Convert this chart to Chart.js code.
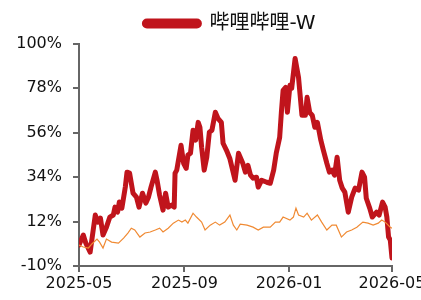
<!DOCTYPE html>
<html>
<head>
<meta charset="utf-8">
<script src="https://cdn.jsdelivr.net/npm/chart.js@4"></script>
<style>
  html, body { margin: 0; padding: 0; background: #fff; }
  #wrap { width: 421px; height: 300px; }
</style>
</head>
<body>
<div id="wrap"><canvas id="chart" width="421" height="300"></canvas></div>
<script>
// days counted from 2025-05-01
const xTickDays = [0, 123, 245, 365];
const xTickLabels = ['2025-05', '2025-09', '2026-01', '2026-05'];
const yTickValues = [-10, 12, 34, 56, 78, 100];

const biliName = '哔哩哔哩-W';
const biliDays = [0, 5, 8, 13, 19, 22, 25, 28, 32, 36, 40, 42, 45, 47, 50, 54, 56, 59, 63, 67,
  70, 74, 78, 81, 84, 89, 91, 94, 98, 101, 104, 108, 111, 112, 114, 119, 122, 125, 127, 130,
  133, 136, 139, 141, 143, 146, 149, 152, 155, 159, 162, 166, 168, 172, 176, 182, 186, 191, 194, 197,
  200, 203, 207, 209, 213, 219, 223, 227, 230, 234, 236, 238, 241, 243, 246, 248, 252, 256, 260, 264,
  266, 269, 272, 275, 278, 282, 285, 289, 292, 295, 298, 301, 304, 307, 310, 314, 318, 322, 326, 330,
  333, 335, 339, 342, 347, 350, 354, 357, 359, 361, 363, 365];
const biliValues = [0.4, 5.3, 1.3, -3.1, 15.2, 11.7, 13.7, 5.3, 9.2, 14.2, 15.2, 19.1, 16.6, 21.6, 18.6, 29.0, 36.4, 35.9, 26.0, 24.0,
  19.1, 26.0, 21.1, 24.0, 29.0, 36.4, 32.4, 25.0, 17.6, 26.0, 19.1, 20.1, 19.1, 35.9, 37.4, 49.7, 40.8, 38.3, 44.8, 45.7,
  57.1, 52.2, 61.0, 58.6, 48.7, 37.4, 43.8, 56.1, 57.1, 66.0, 63.0, 61.0, 50.7, 47.2, 43.0, 32.4, 45.7, 40.8, 36.4, 39.8,
  34.9, 33.4, 33.9, 29.0, 32.4, 31.4, 30.9, 37.4, 45.7, 53.6, 66.0, 76.8, 78.3, 66.0, 79.3, 77.8, 92.6, 83.2, 64.5, 64.5,
  73.4, 66.0, 64.5, 58.6, 61.0, 52.2, 47.2, 40.8, 36.4, 37.4, 34.9, 43.8, 32.4, 28.5, 26.5, 16.6, 24.0, 28.5, 27.5, 36.4,
  33.9, 23.5, 18.6, 14.2, 16.6, 15.2, 21.6, 19.1, 14.2, 4.3, 2.8, -6.1];

const benchDays = [0, 5, 11, 15, 21, 24, 28, 32, 38, 46, 52, 57, 61, 65, 71, 77, 83, 89, 94, 98,
  104, 110, 116, 120, 124, 127, 133, 137, 143, 147, 153, 159, 164, 170, 176, 180, 184, 188, 196, 203,
  209, 215, 223, 229, 234, 238, 246, 250, 253, 256, 262, 266, 271, 278, 283, 289, 295, 300, 306, 312,
  318, 324, 331, 337, 343, 349, 353, 357, 363, 365];
const benchValues = [0.4, -0.6, -1.1, 0.9, 3.3, 1.8, -1.1, 3.3, 1.8, 1.3, 3.8, 6.3, 8.7, 7.8, 4.3, 6.3, 6.8, 7.8, 8.7, 6.8,
  8.7, 11.2, 12.7, 11.7, 12.7, 11.2, 16.1, 14.2, 11.7, 7.8, 10.2, 11.7, 10.2, 11.7, 15.2, 10.2, 7.8, 10.7, 10.2, 9.2,
  7.8, 9.2, 9.2, 11.7, 11.7, 14.2, 12.7, 14.2, 18.6, 15.2, 14.2, 16.1, 12.7, 15.2, 11.7, 7.8, 10.2, 10.2, 4.3, 6.8,
  7.8, 9.2, 11.7, 11.2, 10.2, 11.2, 12.7, 11.7, 9.2, 8.7];

const toPoints = (days, vals) => days.map((d, i) => ({ x: d, y: vals[i] }));

const axisColor = '#666666';
const fontFamily = '"DejaVu Sans", "Noto Sans CJK SC", sans-serif';

// the legend sits a bit right of centre in the original, nudge its box after layout
const legendShift = {
  id: 'legendShift',
  afterLayout(chart) {
    const lg = chart.legend;
    if (!lg) return;
    lg.left += 34;
    lg.right += 34;
  }
};

new Chart(document.getElementById('chart'), {
  type: 'line',
  data: {
    datasets: [
      {
        label: biliName,
        data: toPoints(biliDays, biliValues),
        borderColor: '#C0141C',
        backgroundColor: '#C0141C',
        borderWidth: 5,
        borderJoinStyle: 'round',
        borderCapStyle: 'round',
        pointRadius: 0,
        tension: 0,
        order: 1
      },
      {
        label: 'bench',
        data: toPoints(benchDays, benchValues),
        borderColor: '#F08A33',
        backgroundColor: '#F08A33',
        borderWidth: 1.2,
        pointRadius: 0,
        tension: 0,
        order: 0
      }
    ]
  },
  plugins: [legendShift],
  options: {
    responsive: false,
    animation: false,
    layout: { padding: { top: 1, right: 29, left: 0, bottom: 0 } },
    plugins: {
      tooltip: { enabled: false },
      legend: {
        position: 'top',
        labels: {
          filter: item => item.text === biliName,
          boxWidth: 55,
          boxHeight: 5,
          useBorderRadius: true,
          borderRadius: 2.5,
          color: '#111',
          padding: 12.5,
          font: { family: fontFamily, size: 20 }
        }
      }
    },
    scales: {
      x: {
        type: 'linear',
        min: 0,
        max: 365,
        afterBuildTicks: axis => { axis.ticks = xTickDays.map(v => ({ value: v })); },
        afterFit: axis => { axis.paddingLeft = 0; axis.paddingRight = 0; axis.height = 34; },
        ticks: {
          autoSkip: false,
          maxRotation: 0,
          color: '#111',
          padding: 2,
          font: { family: fontFamily, size: 16 },
          callback: v => xTickLabels[xTickDays.indexOf(v)]
        },
        grid: { drawOnChartArea: false, drawTicks: true, tickLength: 6, color: axisColor, lineWidth: 2 },
        border: { display: true, color: axisColor, width: 2 }
      },
      y: {
        min: -10,
        max: 100,
        afterBuildTicks: axis => { axis.ticks = yTickValues.map(v => ({ value: v })); },
        afterFit: axis => { axis.width = 79; axis.paddingTop = 0; axis.paddingBottom = 0; },
        ticks: {
          color: '#111',
          padding: 11,
          font: { family: fontFamily, size: 16 },
          callback: v => v + '%'
        },
        grid: { drawOnChartArea: false, drawTicks: true, tickLength: 6, color: axisColor, lineWidth: 2 },
        border: { display: true, color: axisColor, width: 2 }
      }
    }
  }
});
</script>
</body>
</html>
